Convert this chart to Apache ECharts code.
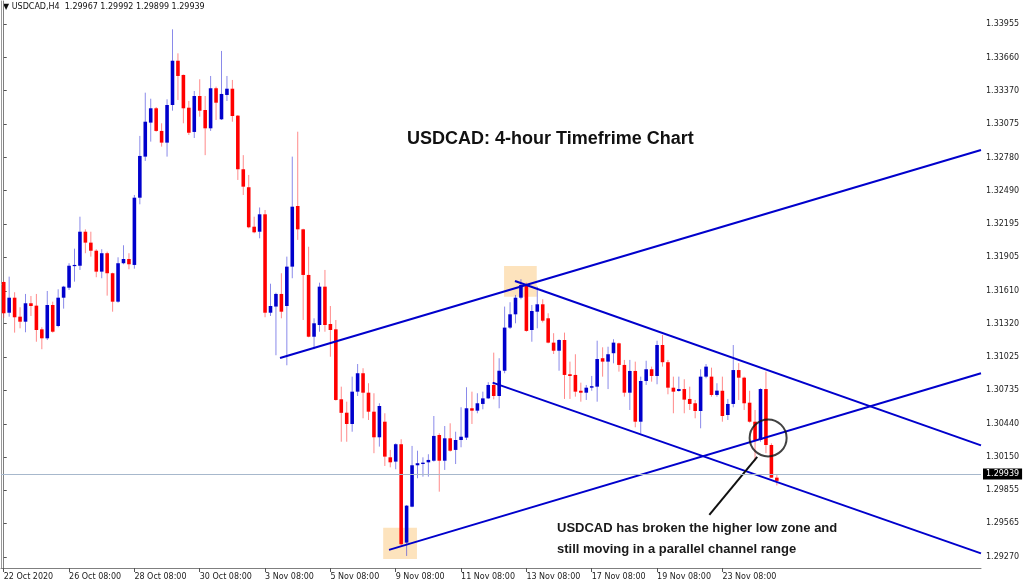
<!DOCTYPE html>
<html>
<head>
<meta charset="utf-8">
<script src="https://cdn.jsdelivr.net/npm/echarts@6/dist/echarts.min.js"></script>
<style>
html,body{margin:0;padding:0;background:#fff;}
#chart{width:1024px;height:586px;}
</style>
</head>
<body>
<div id="chart"></div>
<script>
// ---- data (USDCAD H4), one entry per bar ----
const opens = [1.31687,1.31417,1.31549,1.31382,1.31338,1.31500,1.31479,1.31271,1.31192,1.31485,1.31300,1.31549,1.31637,1.31828,1.31830,1.32129,1.32033,1.31962,1.31778,1.31940,1.31764,1.31514,1.31852,1.31889,1.31837,1.32428,1.32789,1.33088,1.33214,1.33015,1.32912,1.33243,1.33632,1.33507,1.33219,1.33006,1.33322,1.33199,1.33038,1.33390,1.33117,1.33331,1.33386,1.33149,1.32678,1.32520,1.32173,1.32129,1.32282,1.31417,1.31471,1.31582,1.31476,1.31822,1.32355,1.32150,1.31749,1.31206,1.31309,1.31646,1.31318,1.31271,1.30656,1.30538,1.30439,1.30723,1.30885,1.30714,1.30547,1.30322,1.30459,1.30146,1.30108,1.30261,1.29396,1.29712,1.30076,1.30087,1.30102,1.30116,1.30342,1.30116,1.30313,1.30211,1.30298,1.30319,1.30577,1.30556,1.30615,1.30664,1.30782,1.30685,1.30907,1.31286,1.31403,1.31549,1.31661,1.31265,1.31426,1.31491,1.31368,1.31154,1.31083,1.31177,1.30876,1.30870,1.30731,1.30714,1.30758,1.30767,1.31017,1.30987,1.31061,1.31148,1.30958,1.30714,1.30905,1.30459,1.30817,1.30920,1.30861,1.31133,1.30982,1.30758,1.30729,1.30746,1.30659,1.30621,1.30553,1.30855,1.30855,1.30694,1.30731,1.30518,1.30615,1.30913,1.30846,1.30626,1.30459,1.30298,1.30746,1.30254,1.29967];
const closes = [1.31412,1.31549,1.31377,1.31338,1.31500,1.31476,1.31265,1.31192,1.31485,1.31250,1.31549,1.31646,1.31830,1.31837,1.32129,1.32033,1.31962,1.31778,1.31940,1.31764,1.31514,1.31852,1.31889,1.31843,1.32428,1.32795,1.33096,1.33214,1.33015,1.32912,1.33243,1.33632,1.33498,1.33214,1.32999,1.33322,1.33193,1.33038,1.33390,1.33263,1.33340,1.33386,1.33146,1.32678,1.32525,1.32168,1.32124,1.32282,1.31417,1.31476,1.31582,1.31426,1.31822,1.32349,1.32150,1.31749,1.31206,1.31324,1.31646,1.31309,1.31265,1.30650,1.30537,1.30439,1.30723,1.30885,1.30714,1.30547,1.30322,1.30597,1.30152,1.30102,1.30261,1.29382,1.29721,1.30076,1.30094,1.30099,1.30123,1.30334,1.30116,1.30313,1.30204,1.30298,1.30327,1.30577,1.30556,1.30621,1.30664,1.30782,1.30685,1.30907,1.31286,1.31403,1.31549,1.31661,1.31257,1.31432,1.31491,1.31347,1.31154,1.31083,1.31177,1.30870,1.30861,1.30723,1.30714,1.30758,1.30771,1.31010,1.30987,1.31052,1.31154,1.30958,1.30714,1.30905,1.30459,1.30817,1.30920,1.30861,1.31133,1.30982,1.30758,1.30723,1.30746,1.30653,1.30615,1.30553,1.30855,1.30943,1.30694,1.30732,1.30509,1.30615,1.30913,1.30846,1.30621,1.30459,1.30298,1.30746,1.30254,1.29967,1.29939];
const lows = [1.31371,1.31382,1.31242,1.31280,1.31245,1.31388,1.31162,1.31096,1.31177,1.31242,1.31289,1.31453,1.31617,1.31690,1.31793,1.31940,1.31910,1.31729,1.31720,1.31567,1.31426,1.31505,1.31843,1.31799,1.31804,1.32370,1.32751,1.32921,1.33008,1.32877,1.32789,1.33193,1.33287,1.33082,1.32979,1.32953,1.33140,1.32802,1.33015,1.33111,1.33111,1.33278,1.33096,1.32584,1.32452,1.32159,1.32115,1.32071,1.31377,1.31388,1.31043,1.31368,1.30955,1.31720,1.32057,1.31353,1.31201,1.31096,1.31250,1.31250,1.31030,1.30644,1.30283,1.30283,1.30371,1.30685,1.30489,1.30474,1.30182,1.30240,1.30070,1.30058,1.30041,1.29367,1.29279,1.29707,1.29962,1.29976,1.29976,1.30108,1.29844,1.30035,1.30196,1.30087,1.30234,1.30298,1.30439,1.30533,1.30568,1.30659,1.30656,1.30577,1.30885,1.31274,1.31324,1.31535,1.31250,1.31162,1.31280,1.31331,1.31148,1.31054,1.30907,1.30659,1.30659,1.30679,1.30635,1.30650,1.30731,1.30635,1.30855,1.30746,1.30972,1.30899,1.30679,1.30562,1.30410,1.30357,1.30782,1.30811,1.30788,1.30943,1.30700,1.30533,1.30723,1.30533,1.30562,1.30489,1.30401,1.30841,1.30679,1.30679,1.30459,1.30474,1.30586,1.30650,1.30562,1.30451,1.30114,1.30283,1.30182,1.29967,1.29899];
const highs = [1.31696,1.31734,1.31597,1.31465,1.31582,1.31564,1.31582,1.31289,1.31608,1.31514,1.31623,1.31653,1.31852,1.31980,1.32261,1.32150,1.32129,1.31975,1.31975,1.31954,1.31769,1.31904,1.32010,1.31940,1.32452,1.32971,1.33351,1.33298,1.33225,1.33082,1.33293,1.33908,1.33697,1.33510,1.33278,1.33366,1.33469,1.33322,1.33498,1.33404,1.33718,1.33498,1.33463,1.33155,1.32802,1.32628,1.32261,1.32342,1.32320,1.31672,1.31593,1.31764,1.31910,1.32789,1.33008,1.32155,1.31997,1.31368,1.31681,1.31793,1.31476,1.31353,1.30767,1.30635,1.30855,1.30966,1.30929,1.30797,1.30709,1.30621,1.30533,1.30211,1.30269,1.30305,1.29727,1.30246,1.30204,1.30146,1.30173,1.30509,1.30357,1.30421,1.30445,1.30371,1.30586,1.30762,1.30723,1.30709,1.30723,1.30806,1.31066,1.31017,1.31471,1.31509,1.31573,1.31711,1.31681,1.31485,1.31646,1.31535,1.31412,1.31237,1.31184,1.31242,1.30987,1.31052,1.30802,1.30782,1.30861,1.31171,1.31113,1.31118,1.31184,1.31154,1.31002,1.31002,1.30987,1.30855,1.30995,1.30943,1.31171,1.31221,1.31002,1.30855,1.30855,1.30832,1.30767,1.30650,1.30920,1.30966,1.30934,1.30797,1.30855,1.30659,1.31133,1.30974,1.30855,1.30731,1.30562,1.30753,1.30899,1.30269,1.29992];

const barSlots = 180;                       // visible bar slots incl. right shift
const xTickLabels = [[0,'22 Oct 2020'],[12,'26 Oct 08:00'],[24,'28 Oct 08:00'],[36,'30 Oct 08:00'],[48,'3 Nov 08:00'],[60,'5 Nov 08:00'],[72,'9 Nov 08:00'],[84,'11 Nov 08:00'],[96,'13 Nov 08:00'],[108,'17 Nov 08:00'],[120,'19 Nov 08:00'],[132,'23 Nov 08:00']];
const yTickValues = [1.33955,1.33660,1.33370,1.33075,1.32780,1.32490,1.32195,1.31905,1.31610,1.31320,1.31025,1.30735,1.30440,1.30150,1.29855,1.29565,1.29270];
const yRange = [1.29173, 1.34157];
const lastPrice = 1.29939;
const header = '\u25BC USDCAD,H4  1.29967 1.29992 1.29899 1.29939';

// analyst drawings, in [bar index, price]
const trendUpperRising = [[50.75,1.31019],[179.5,1.32847]];
const trendLowerRising = [[70.77,1.29332],[179.5,1.30885]];
const trendUpperFalling = [[93.9,1.31696],[179.5,1.30251]];
const trendLowerFalling = [[89.8,1.30802],[179.5,1.29302]];
const highlightBoxes = [[[91.9,1.31828],[97.9,1.31558]],[[69.7,1.29527],[75.9,1.29252]]];
const circleMark = [[140.4,1.30316]];
const leaderLine = [[138.4,1.30149],[129.6,1.29639]];

// ---- build ----
const categories = Array.from({length: barSlots}, (_, i) => String(i));
const tickMap = new Map(xTickLabels);
const candleData = opens.map((o, i) => [i, o, closes[i], lows[i], highs[i]]);

const chart = echarts.init(document.getElementById('chart'));
const font = 'DejaVu Sans';
const lineSeries = (data) => ({
  type: 'line', xAxisIndex: 1, data, symbol: 'none', silent: true, z: 3,
  lineStyle: {color: '#0000cc', width: 2}, animation: false
});

chart.setOption({
  animation: false,
  backgroundColor: '#ffffff',
  grid: {left: 1, right: 43, top: 1, bottom: 18, containLabel: false},
  xAxis: [{
    type: 'category', data: categories, boundaryGap: true,
    axisLine: {show: true, lineStyle: {color: '#7f7f7f', width: 1}},
    axisTick: {show: true, alignWithLabel: true, length: 4, interval: (i) => tickMap.has(i), lineStyle: {color: '#555'}},
    axisLabel: {interval: (i) => tickMap.has(i), formatter: (v, i) => tickMap.get(i) || '', align: 'left', margin: 5,
      fontFamily: font, fontSize: 8, color: '#222', hideOverlap: false},
    splitLine: {show: false}
  }, {
    type: 'value', min: -0.5, max: barSlots - 0.5, show: false
  }],
  yAxis: [{
    type: 'value', position: 'right', min: yRange[0], max: yRange[1], scale: true,
    axisLine: {show: true, lineStyle: {color: '#7f7f7f', width: 1}},
    axisTick: {show: true, length: 3, customValues: yTickValues, lineStyle: {color: '#555'}},
    axisLabel: {customValues: yTickValues, formatter: (v) => v.toFixed(5), margin: 5,
      fontFamily: font, fontSize: 8, color: '#222'},
    splitLine: {show: false}
  }, {
    type: 'value', position: 'left', min: yRange[0], max: yRange[1],
    axisLine: {show: true, lineStyle: {color: '#9a9a9a', width: 1}},
    axisTick: {show: false}, axisLabel: {show: false}, splitLine: {show: false}
  }],
  series: [
    {
      type: 'line', xAxisIndex: 1, data: [], z: 1, silent: true,
      markArea: {silent: true, itemStyle: {color: '#fde3bd'},
        data: highlightBoxes.map(b => [{coord: b[0]}, {coord: b[1]}])},
      markLine: {silent: true, symbol: ['none','none'], lineStyle: {color: '#a7b8cc', width: 1, type: 'solid'},
        label: {show: true, position: 'end', distance: 2, formatter: lastPrice.toFixed(5), color: '#fff',
          backgroundColor: '#000', padding: [2, 3, 1, 3], fontFamily: font, fontSize: 8},
        data: [{yAxis: lastPrice}]}
    },
    {
      type: 'custom', z: 2, silent: true,
      data: candleData,
      encode: {x: 0, y: [1, 2, 3, 4]},
      renderItem: (params, api) => {
        const i = api.value(0), o = api.value(1), c = api.value(2), l = api.value(3), h = api.value(4);
        const pO = api.coord([i, o]), pC = api.coord([i, c]), pL = api.coord([i, l]), pH = api.coord([i, h]);
        const w = api.size([1, 0])[0] * 0.66;
        const up = c >= o;
        const body = up ? '#0000cc' : '#ff0000';
        const wick = up ? 'rgba(60,60,220,0.6)' : 'rgba(255,60,60,0.6)';
        const top = Math.min(pO[1], pC[1]);
        const hgt = Math.max(Math.abs(pO[1] - pC[1]), 1.2);
        return {type: 'group', children: [
          {type: 'line', shape: {x1: pO[0], y1: pH[1], x2: pO[0], y2: pL[1]}, style: {stroke: wick, lineWidth: 1}},
          {type: 'rect', shape: {x: pO[0] - w / 2, y: top, width: w, height: hgt}, style: {fill: body}}
        ]};
      }
    },
    lineSeries(trendUpperRising),
    lineSeries(trendLowerRising),
    lineSeries(trendUpperFalling),
    lineSeries(trendLowerFalling),
    {
      type: 'scatter', xAxisIndex: 1, data: circleMark, symbol: 'circle', symbolSize: 37, z: 4, silent: true,
      itemStyle: {color: 'rgba(0,0,0,0)', borderColor: '#111', borderWidth: 2}
    },
    {
      type: 'line', xAxisIndex: 1, data: leaderLine, symbol: 'none', z: 4, silent: true,
      lineStyle: {color: '#111', width: 2}
    }
  ],
  graphic: [
    {type: 'text', left: 3, top: 3, silent: true,
      style: {text: header, fontFamily: font, fontSize: 8, fill: '#111'}},
    {type: 'text', left: 407, top: 130, silent: true,
      style: {text: 'USDCAD: 4-hour Timefrime Chart', fontFamily: 'Liberation Sans', fontWeight: 'bold', fontSize: 18, fill: '#111'}},
    {type: 'text', left: 557, top: 518, silent: true,
      style: {text: 'USDCAD has broken the higher low zone and\nstill moving in a parallel channel range',
        fontFamily: 'Liberation Sans', fontWeight: 'bold', fontSize: 13, lineHeight: 21, fill: '#1a1a1a'}}
  ]
});
</script>
</body>
</html>
